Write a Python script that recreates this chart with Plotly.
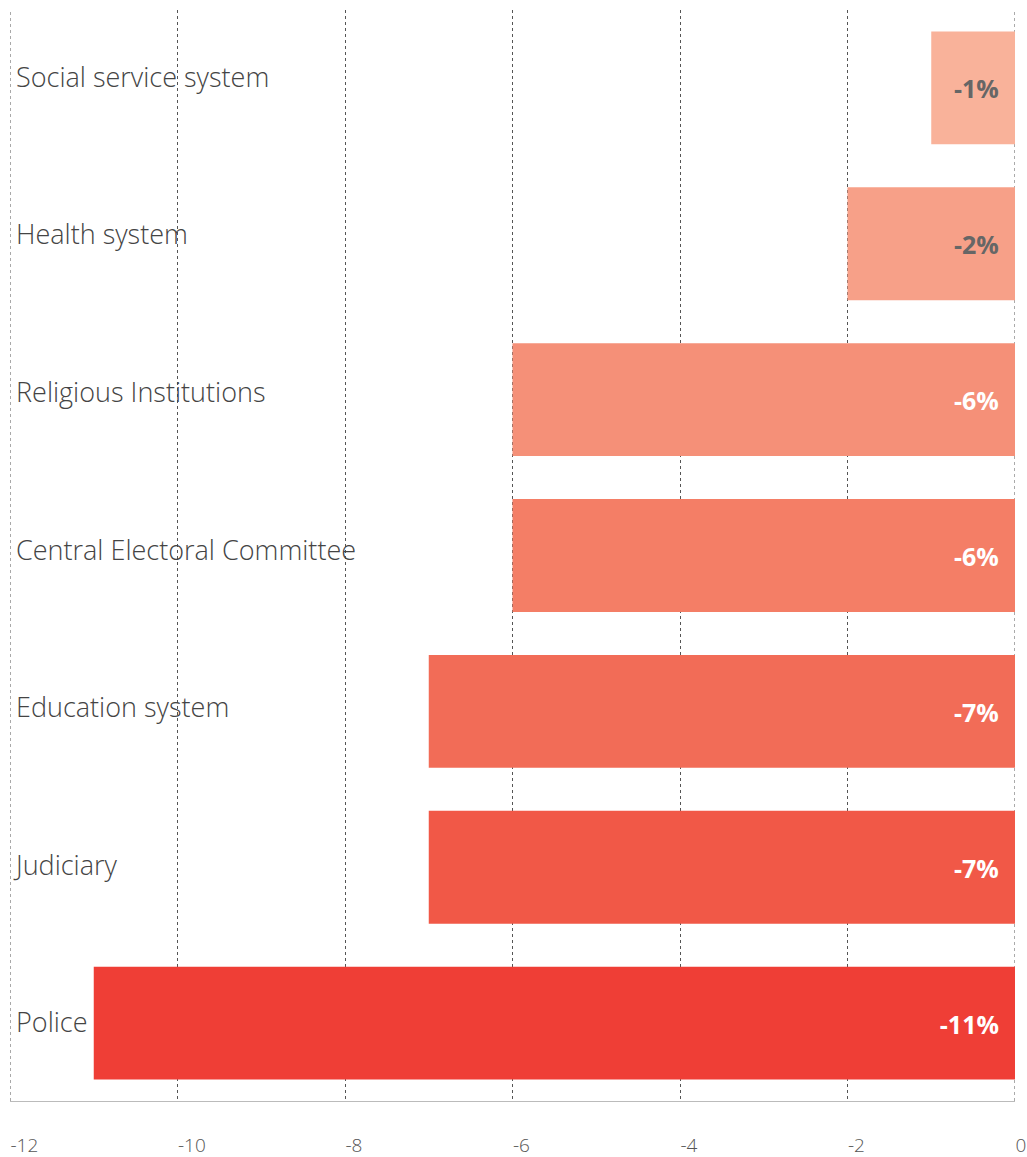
import plotly.graph_objects as go

categories = ["Social service system", "Health system", "Religious Institutions",
              "Central Electoral Committee", "Education system", "Judiciary", "Police"]
values = [-1, -2, -6, -6, -7, -7, -11]
colors = ["#F9B29A", "#F7A088", "#F59078", "#F47E66", "#F26C57", "#F15847", "#EF3E36"]
label_colors = ["#666666", "#666666", "#FFFFFF", "#FFFFFF", "#FFFFFF", "#FFFFFF", "#FFFFFF"]
x_ticks = [-12, -10, -8, -6, -4, -2, 0]

FONT = "Source Sans Pro, Source Sans 3, Lato, Noto Sans, sans-serif"

fig = go.Figure()
fig.add_trace(go.Bar(
    y=categories, x=values, orientation="h",
    marker=dict(color=colors, line=dict(width=0)),
    hoverinfo="skip",
))

n = len(categories)
for i, (c, v, lc) in enumerate(zip(categories, values, label_colors)):
    fig.add_annotation(x=0, y=c, text=f"<b>{v}%</b>", showarrow=False,
                       xanchor="right", align="right", xshift=-14, yshift=-2,
                       font=dict(family=FONT, size=25, color=lc))
    fig.add_annotation(x=x_ticks[0], y=c, text=c, showarrow=False,
                       xanchor="left", align="left", xshift=4,
                       yshift=10 * (n - 1 - i) / (n - 1),
                       font=dict(family=FONT, size=27, color="#444444", weight=300))

# grid lines at the two ends of the axis range (Plotly drops edge gridlines)
for xe in (x_ticks[0], x_ticks[-1]):
    fig.add_shape(type="line", xref="x", yref="paper", x0=xe, x1=xe, y0=0, y1=1,
                  line=dict(color="#555555", width=1, dash="dot"), layer="below")

fig.update_layout(
    width=1027, height=1157,
    margin=dict(l=10, r=12, t=10, b=56, autoexpand=False),
    paper_bgcolor="white", plot_bgcolor="white",
    bargap=0.276,
    showlegend=False,
    font=dict(family=FONT),
)
fig.update_xaxes(
    range=[x_ticks[0], x_ticks[-1]], tickvals=x_ticks, ticktext=[str(t) for t in x_ticks],
    showgrid=True, gridcolor="#555555", griddash="dot", gridwidth=1,
    zeroline=False, showline=True, linecolor="#BBBBBB", linewidth=1,
    ticks="", ticklabelposition="outside right", ticklabelstandoff=27,
    tickfont=dict(family=FONT, size=19, color="#555555", weight=300),
    automargin=False,
)
fig.update_yaxes(
    autorange="reversed", categoryorder="array", categoryarray=categories,
    showgrid=False, zeroline=False, showline=False, ticks="",
    showticklabels=False, automargin=False,
)

fig.write_html("out.html", config={"displayModeBar": False},
               post_script="document.body.style.margin='0';document.body.style.overflow='hidden';")
